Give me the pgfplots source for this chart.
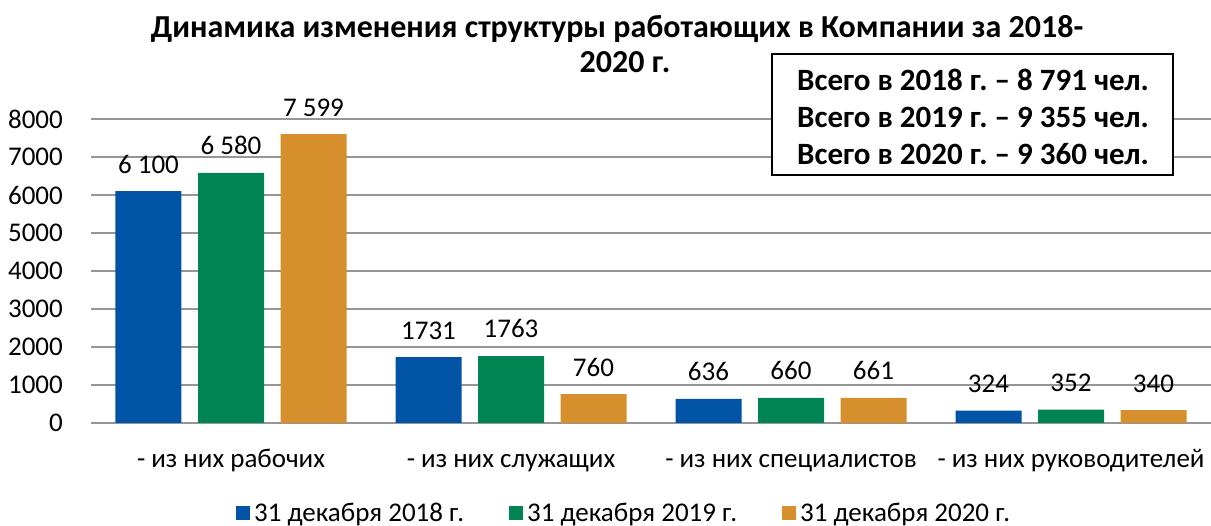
\documentclass[border=0pt]{standalone}
\usepackage{fontspec}
\setmainfont{Carlito}
\usepackage{pgfplots}
\pgfplotsset{compat=1.18}
\definecolor{cBlue}{RGB}{0,83,165}
\definecolor{cGreen}{RGB}{0,132,84}
\definecolor{cOrange}{RGB}{214,143,44}
\definecolor{cGrid}{RGB}{150,150,150}
\frenchspacing
\begin{document}
\frenchspacing
\begin{tikzpicture}[x=1pt,y=1pt]
\useasboundingbox (0,0) rectangle (1211,526);
\begin{axis}[
  at={(91pt,103pt)}, anchor=south west,
  scale only axis, width=1120pt, height=304pt,
  xmin=-0.5, xmax=3.5, ymin=0, ymax=8000,
  ybar=16.5pt, bar width=66pt,
  axis line style={draw=none},
  ytick={0,1000,2000,3000,4000,5000,6000,7000,8000},
  yticklabels={0,1000,2000,3000,4000,5000,6000,7000,8000},
  xtick={0,1,2,3},
  xticklabels={- из них рабочих,- из них служащих,- из них специалистов,- из них руководителей},
  major tick length=0pt,
  ymajorgrids, grid style={cGrid, line width=1.2pt},
  tick label style={font=\fontsize{27}{32}\selectfont},
  yticklabel style={anchor=east, inner sep=0pt, xshift=-28pt},
  xticklabel style={anchor=base, inner sep=0pt, yshift=-45pt},
  point meta=explicit symbolic,
  nodes near coords,
  every node near coord/.append style={anchor=base, inner sep=0pt, yshift=18pt, font=\fontsize{27}{32}\selectfont, text=black},
  legend style={at={(0.476,-0.297)}, anchor=center, draw=none, fill=none,
    legend columns=3, font=\fontsize{27}{32}\selectfont\frenchspacing, inner sep=0pt,
    /tikz/every even column/.append style={column sep=43pt},
    /tikz/every odd column/.append style={column sep=2pt}},
  legend image code/.code={\fill[#1] (0pt,-7pt) rectangle (14pt,7pt);},
  clip=false,
]
\addplot[fill=cBlue, draw=none] coordinates {(0,6100) [6~100] (1,1731) [1731] (2,636) [636] (3,324) [324]};
\addplot[fill=cGreen, draw=none] coordinates {(0,6580) [6~580] (1,1763) [1763] (2,660) [660] (3,352) [352]};
\addplot[fill=cOrange, draw=none] coordinates {(0,7599) [7~599] (1,760) [760] (2,661) [661] (3,340) [340]};
\legend{31 декабря 2018 г.,31 декабря 2019 г.,31 декабря 2020 г.}
\end{axis}
\node[anchor=base, font=\fontsize{32}{38}\selectfont\bfseries, inner sep=0pt] at (617,488) {Динамика изменения структуры работающих в Компании за 2018-};
\node[anchor=base, font=\fontsize{32}{38}\selectfont\bfseries, inner sep=0pt] at (625,453) {2020 г.};
\draw[black, line width=1.5pt, fill=white] (772,351) rectangle (1173,472);
\node[anchor=base west, font=\fontsize{31}{36}\selectfont\bfseries\frenchspacing, inner sep=0pt] at (797,435.5) {Всего в 2018 г. – 8 791 чел.};
\node[anchor=base west, font=\fontsize{31}{36}\selectfont\bfseries\frenchspacing, inner sep=0pt] at (797,398.5) {Всего в 2019 г. – 9 355 чел.};
\node[anchor=base west, font=\fontsize{31}{36}\selectfont\bfseries\frenchspacing, inner sep=0pt] at (797,361.5) {Всего в 2020 г. – 9 360 чел.};
\end{tikzpicture}
\end{document}
